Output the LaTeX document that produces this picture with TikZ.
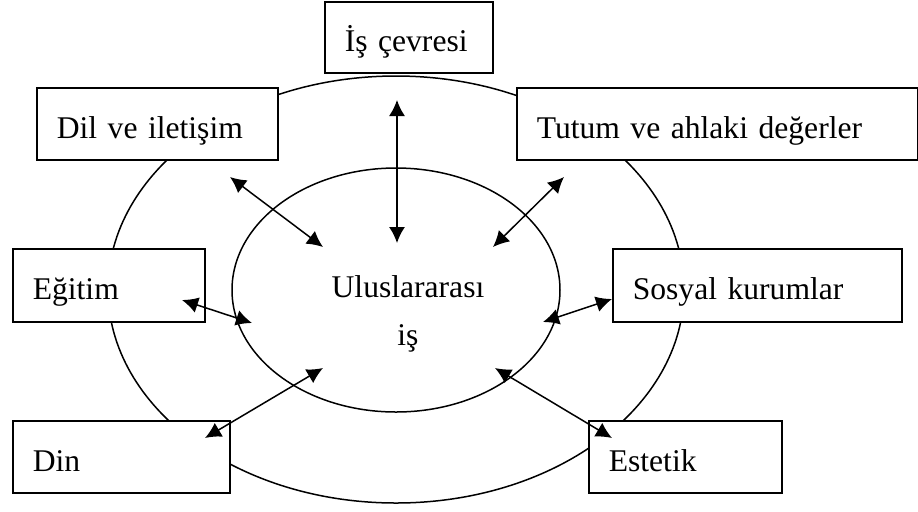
\documentclass[tikz,border=0pt]{standalone}
\usepackage{fontspec}
\setmainfont{Liberation Serif}
\usetikzlibrary{arrows.meta,shapes.geometric}

\begin{document}
\begin{tikzpicture}[x=0.5pt,y=-0.5pt]
    \tikzstyle{ring}=[draw, ellipse, line width=0.75pt, inner sep=0pt]
    \tikzstyle{box}=[draw, fill=white, line width=0.8pt, anchor=north west, align=left,
                     inner xsep=10pt, inner ysep=0pt, text height=15pt, text depth=0.5pt,
                     font=\fontsize{15.8}{19}\selectfont]
    \tikzstyle{word}=[anchor=base, inner sep=0pt, font=\fontsize{15.8}{19}\selectfont]
    \tikzstyle{link}=[{Latex[length=8pt,width=8pt]}-{Latex[length=8pt,width=8pt]}, line width=0.75pt]
    \useasboundingbox (0,0) rectangle (918,511);
    % rings
    \node[ring, minimum width=288pt, minimum height=213.5pt] (outer) at (396,289.5) {};
    \node[ring, minimum width=164pt, minimum height=122pt] (inner) at (396,290) {};
    \node[word] (uluslar) at (408,297) {Uluslararası};
    \node[word] (is) at (408,345) {iş};
    % boxes
    \node[box, text width=64pt, minimum height=35.5pt] (cevre) at (324,1) {İş çevresi};
    \node[box, text width=100.5pt, minimum height=36pt] (dil) at (36,87) {Dil ve iletişim};
    \node[box, text width=180.5pt, minimum height=36pt] (tutum) at (516,87) {Tutum ve ahlaki değerler};
    \node[box, text width=76pt, minimum height=36.5pt] (egitim) at (12,248) {Eğitim};
    \node[box, text width=124.5pt, minimum height=36.5pt] (sosyal) at (612,248) {Sosyal kurumlar};
    \node[box, text width=88.5pt, minimum height=36pt] (din) at (12,420) {Din};
    \node[box, text width=76.5pt, minimum height=36pt] (estetik) at (588,420) {Estetik};
    % arrow ends
    \coordinate (cevreA) at (397,100);
    \coordinate (cevreB) at (397,243);
    \coordinate (dilA) at (230,177);
    \coordinate (dilB) at (323,247);
    \coordinate (tutumA) at (564,177);
    \coordinate (tutumB) at (493,247);
    \coordinate (egitimA) at (182,300);
    \coordinate (egitimB) at (252,323);
    \coordinate (sosyalA) at (612,299);
    \coordinate (sosyalB) at (543,322);
    \coordinate (dinA) at (205,438);
    \coordinate (dinB) at (323,368);
    \coordinate (estetikA) at (612,438);
    \coordinate (estetikB) at (495,368);
    % arrows
    \draw[link] (cevreA) -- (cevreB);
    \draw[link] (dilA) -- (dilB);
    \draw[link] (tutumA) -- (tutumB);
    \draw[link] (egitimA) -- (egitimB);
    \draw[link] (sosyalA) -- (sosyalB);
    \draw[link] (dinA) -- (dinB);
    \draw[link] (estetikA) -- (estetikB);
\end{tikzpicture}
\end{document}
